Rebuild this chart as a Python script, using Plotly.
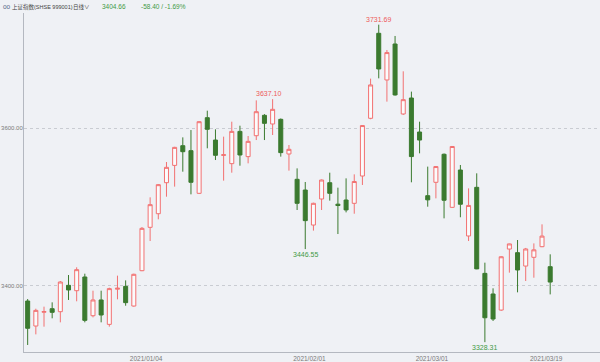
import plotly.graph_objects as go

dates = ["2020/12/11", "2020/12/14", "2020/12/15", "2020/12/16", "2020/12/17", "2020/12/18",
         "2020/12/21", "2020/12/22", "2020/12/23", "2020/12/24", "2020/12/25", "2020/12/28",
         "2020/12/29", "2020/12/30", "2020/12/31",
         "2021/01/04", "2021/01/05", "2021/01/06", "2021/01/07", "2021/01/08", "2021/01/11",
         "2021/01/12", "2021/01/13", "2021/01/14", "2021/01/15", "2021/01/18", "2021/01/19",
         "2021/01/20", "2021/01/21", "2021/01/22", "2021/01/25", "2021/01/26", "2021/01/27",
         "2021/01/28", "2021/01/29",
         "2021/02/01", "2021/02/02", "2021/02/03", "2021/02/04", "2021/02/05", "2021/02/08",
         "2021/02/09", "2021/02/10", "2021/02/18", "2021/02/19", "2021/02/22", "2021/02/23",
         "2021/02/24", "2021/02/25", "2021/02/26",
         "2021/03/01", "2021/03/02", "2021/03/03", "2021/03/04", "2021/03/05", "2021/03/08",
         "2021/03/09", "2021/03/10", "2021/03/11", "2021/03/12", "2021/03/15", "2021/03/16",
         "2021/03/17", "2021/03/18", "2021/03/19"]

opens = [3380.6, 3348.8, 3366.3, 3370.8, 3367.0, 3400.5, 3393.7, 3411.1, 3361.9, 3381.9,
         3350.9, 3395.6, 3399.2, 3374.2, 3419.1,
         3474.2, 3491.5, 3530.9, 3552.9, 3577.9, 3571.6, 3517.4, 3613.5, 3585.1, 3565.6,
         3555.1, 3596.1, 3564.0, 3590.6, 3616.5, 3605.5, 3611.4, 3567.4, 3535.2, 3521.6,
         3477.1, 3510.2, 3530.9, 3503.6, 3508.9, 3504.7, 3539.4, 3612.7, 3720.7, 3661.4,
         3707.1, 3618.2, 3638.5, 3595.3, 3514.4,
         3531.4, 3567.0, 3499.6, 3547.0, 3463.2, 3525.0, 3415.7, 3389.5, 3369.1, 3446.6,
         3442.0, 3425.0, 3436.1, 3449.6, 3424.2]

highs = [3383.1, 3370.8, 3373.4, 3378.9, 3406.0, 3413.6, 3423.4, 3415.3, 3393.7, 3393.7,
         3397.5, 3412.8, 3406.8, 3415.3, 3474.6,
         3512.3, 3529.2, 3557.2, 3576.5, 3588.5, 3597.8, 3609.0, 3622.4, 3598.7, 3589.4,
         3608.4, 3603.3, 3590.2, 3635.5, 3618.0, 3637.10, 3612.5, 3578.8, 3549.1, 3531.8,
         3505.5, 3535.0, 3543.6, 3524.6, 3536.4, 3541.5, 3604.0, 3663.1, 3731.69, 3699.5,
         3717.3, 3672.4, 3646.6, 3608.4, 3551.3,
         3552.0, 3568.0, 3577.5, 3553.4, 3523.7, 3542.8, 3429.3, 3396.7, 3437.5, 3453.5,
         3458.1, 3448.0, 3453.8, 3478.0, 3439.9]

lows = [3324.7, 3338.2, 3348.0, 3358.6, 3353.5, 3381.9, 3380.2, 3353.5, 3359.8, 3353.5,
        3348.0, 3382.7, 3374.6, 3373.4, 3418.5,
        3456.8, 3484.4, 3513.1, 3525.9, 3544.9, 3516.1, 3516.5, 3574.6, 3559.7, 3533.5,
        3543.6, 3552.5, 3555.5, 3585.1, 3585.1, 3591.5, 3564.0, 3546.2, 3496.2, 3446.55,
        3470.0, 3496.2, 3508.1, 3465.7, 3493.2, 3491.5, 3528.0, 3611.5, 3663.5, 3633.9,
        3641.5, 3617.0, 3531.4, 3568.2, 3500.4,
        3511.0, 3485.6, 3499.0, 3487.0, 3456.8, 3421.0, 3328.31, 3355.2, 3368.0, 3416.6,
        3391.6, 3406.0, 3410.2, 3449.0, 3389.0]

closes = [3345.9, 3368.7, 3367.2, 3366.2, 3404.7, 3394.6, 3420.4, 3356.0, 3381.9, 3362.8,
          3396.3, 3396.8, 3378.5, 3414.5, 3472.9,
          3503.0, 3528.4, 3550.4, 3575.8, 3570.3, 3531.4, 3608.4, 3598.7, 3565.7, 3566.4,
          3596.1, 3566.1, 3583.4, 3621.1, 3606.3, 3624.1, 3569.1, 3573.3, 3504.7, 3482.7,
          3504.7, 3534.3, 3517.4, 3501.9, 3496.3, 3532.4, 3603.5, 3655.1, 3675.4, 3696.2,
          3642.4, 3636.4, 3564.1, 3585.1, 3509.1,
          3551.4, 3508.6, 3576.9, 3503.5, 3502.0, 3421.4, 3359.3, 3357.7, 3436.8, 3453.1,
          3420.0, 3446.7, 3445.6, 3463.06, 3404.66]

tick_dates = ["2021/01/04", "2021/02/01", "2021/03/01", "2021/03/19"]
high_marks = ["2021/01/25", "2021/02/18"]
low_marks = ["2021/01/29", "2021/03/09"]

title_name = "上证指数(SHSE 999001)"
period_name = "日线∨"

RED = "#f27171"
GREEN = "#3b7a2f"
BG = "#eff1f5"
FONT = "Liberation Sans, Noto Sans CJK SC, sans-serif"

xs = list(range(len(dates)))

fig = go.Figure()
fig.add_trace(go.Candlestick(
    x=xs, open=opens, high=highs, low=lows, close=closes,
    increasing=dict(line=dict(color=RED, width=1), fillcolor="#fbfbfc"),
    decreasing=dict(line=dict(color=GREEN, width=1), fillcolor=GREEN),
    whiskerwidth=0, showlegend=False, hoverinfo="skip"))

ann = []
for d in high_marks:
    i = dates.index(d)
    ann.append(dict(x=i, y=highs[i], xref="x", yref="y", text=f"{highs[i]:.2f}",
                    showarrow=False, yanchor="bottom", yshift=0,
                    xshift=-4 if d == "2021/01/25" else 0,
                    font=dict(size=7, color="#ee5a5a", family=FONT)))
for d in low_marks:
    i = dates.index(d)
    ann.append(dict(x=i, y=lows[i], xref="x", yref="y", text=f"{lows[i]:.2f}",
                    showarrow=False, yanchor="top", yshift=0,
                    font=dict(size=7, color="#3f9a45", family=FONT)))

last = closes[-1]
chg = closes[-1] - closes[-2]
pct = chg / closes[-2] * 100

W, L_M, T_M, H = 576, 24, 13, 339


def px(xp):
    return (xp - L_M) / W


hy = 1 + (T_M - 7) / H
ann += [
    dict(x=px(1), y=hy, xref="paper", yref="paper", text="oo", showarrow=False,
         xanchor="left", yanchor="middle", font=dict(size=6.5, color="#5a6a8a", family=FONT)),
    dict(x=px(10), y=hy, xref="paper", yref="paper", text=title_name, showarrow=False,
         xanchor="left", yanchor="middle", font=dict(size=5.5, color="#444", family=FONT)),
    dict(x=px(71), y=hy, xref="paper", yref="paper", text=period_name, showarrow=False,
         xanchor="left", yanchor="middle", font=dict(size=5.5, color="#444", family=FONT)),
    dict(x=px(100), y=hy, xref="paper", yref="paper", text=f"{last:.2f}", showarrow=False,
         xanchor="left", yanchor="middle", font=dict(size=6.5, color="#3f9a45", family=FONT)),
    dict(x=px(139), y=hy, xref="paper", yref="paper",
         text=f"{chg:.2f} / {pct:.2f}%", showarrow=False,
         xanchor="left", yanchor="middle", font=dict(size=6.5, color="#3f9a45", family=FONT)),
]

fig.update_layout(
    width=600, height=362,
    margin=dict(l=L_M, r=0, t=T_M, b=362 - T_M - H),
    paper_bgcolor=BG, plot_bgcolor=BG,
    annotations=ann,
    xaxis=dict(
        range=[-0.45, 70.1], rangeslider=dict(visible=False),
        tickmode="array", tickvals=[dates.index(d) for d in tick_dates], ticktext=tick_dates,
        ticks="", showgrid=False, zeroline=False,
        showline=True, linecolor="#b4b8c0", linewidth=1,
        tickfont=dict(size=6.5, color="#7a7a7a", family=FONT),
        ticklabelshift=-4, automargin=False,
    ),
    yaxis=dict(
        range=[3315.8, 3746.5], tick0=0, dtick=200, tickformat=".2f",
        ticks="", showgrid=True, gridcolor="#c9ccd2", griddash="dot", gridwidth=1,
        zeroline=False, showline=True, linecolor="#b4b8c0", linewidth=1,
        tickfont=dict(size=6, color="#7a7a7a", family=FONT),
        ticklabelstandoff=-1, automargin=False,
    ),
)

fig.write_html("out.html")
